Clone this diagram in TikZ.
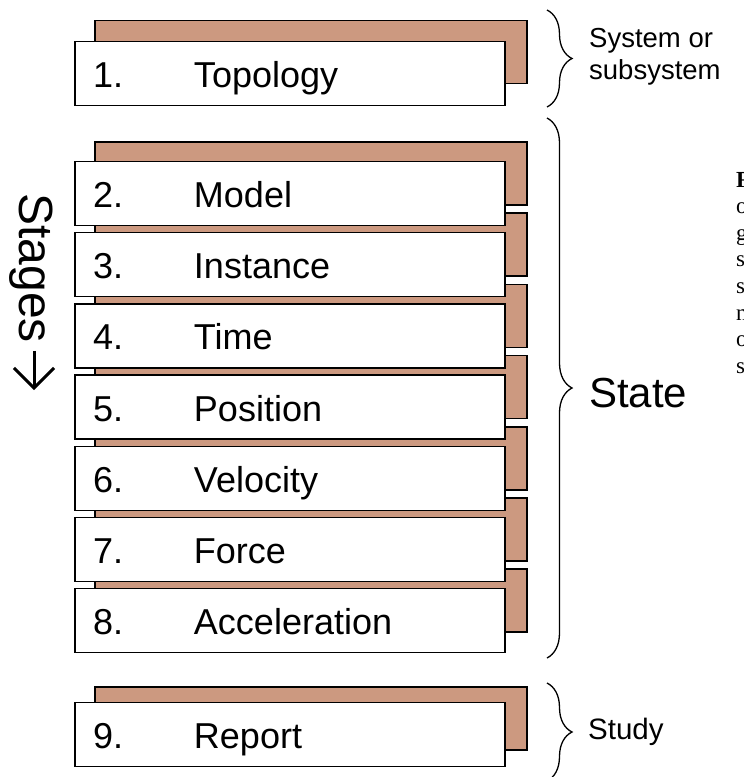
\documentclass[tikz,border=0pt]{standalone}
\usepackage{fontspec}
\setmainfont{Liberation Sans}
\newfontfamily\captionserif{Liberation Serif}
\usetikzlibrary{decorations.pathreplacing}
\usetikzlibrary{arrows.meta}
\definecolor{shadowtan}{RGB}{204,153,128}
\tikzstyle{stage}=[draw, fill=white, line width=1.5pt, outer sep=0pt, anchor=west, minimum height=64pt, text width=394pt, text height=28pt, text depth=0pt, inner xsep=18pt, align=left, font=\fontsize{36}{40}\selectfont]
\tikzstyle{stage shadow}=[draw, fill=shadowtan, line width=1.5pt, outer sep=0pt, anchor=west, minimum width=432pt, minimum height=63pt]
\tikzstyle{group brace}=[decorate, decoration={brace, amplitude=25pt}, line width=1.3pt]
\tikzstyle{group label}=[anchor=west, inner sep=0pt, align=left]
\tikzstyle{order arrow}=[line width=3pt, -{Straight Barb[length=20pt, width=40pt, line width=3pt]}]
\tikzstyle{cut letter}=[inner sep=0pt, font=\captionserif\fontsize{23}{26}\selectfont]
\newcommand{\stagenum}[1]{\makebox[101pt][l]{#1}}

\begin{document}
\begin{tikzpicture}[x=1pt, y=-1pt]
      \useasboundingbox (0,0) rectangle (744,777);

      % shadows go under every box
      \node[stage shadow] (topology_sh) at (95,52) {};
      \foreach \n [count=\k from 0] in {2,...,8}
        \node[stage shadow] (state_sh_\n) at (95,173.5+71.2*\k) {};
      \node[stage shadow] (report_sh) at (95,718.5) {};

      \node[stage] (topology) at (75,73.5) {\stagenum{1.}Topology};
      \foreach \n/\lbl [count=\k from 0] in {2/Model,3/Instance,4/Time,5/Position,6/Velocity,7/Force,8/Acceleration}
        \node[stage] (state_\n) at (75,193.5+71.2*\k) {\stagenum{\n.}\lbl};
      \node[stage] (report) at (75,734.5) {\stagenum{9.}Report};

      \node[rotate=-90, inner sep=0pt, font=\fontsize{48}{50}\selectfont] (stages) at (31,268) {Stages};
      \coordinate (stages_end) at (34,390);
      \draw[order arrow] ([xshift=3pt, yshift=-8pt]stages.east) -- (stages_end);

      % braces and their labels
      \coordinate (sys_top) at (547,10);
      \coordinate (sys_bot) at (547,107);
      \coordinate (state_top) at (547,118);
      \coordinate (state_bot) at (547,658);
      \coordinate (study_top) at (547,683);
      \coordinate (study_bot) at (547,781);
      \draw[group brace] (sys_top) -- (sys_bot);
      \draw[group brace] (state_top) -- (state_bot);
      \draw[group brace] (study_top) -- (study_bot);

      \node[group label, font=\fontsize{27.5}{32}\selectfont] (sys_label) at (589,57) {System or\\subsystem};
      \node[group label, font=\fontsize{42}{44}\selectfont] (state_label) at (589,393) {State};
      \node[group label, font=\fontsize{29.5}{32}\selectfont] (study_label) at (588,732) {Study};

      \foreach \ch [count=\r from 0] in {\textbf{F},o,g,s,s,n,o,s}
        \node[cut letter, anchor=base west] (cap_\r) at (736,187+26.6*\r) {\ch};
    \end{tikzpicture}
\end{document}
